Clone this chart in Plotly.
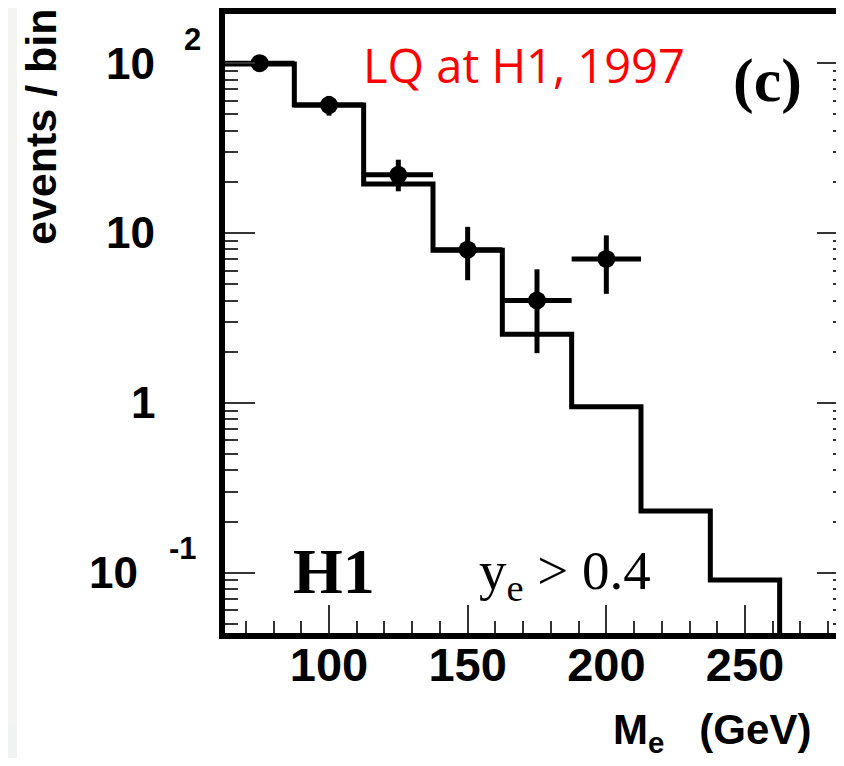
import math
import plotly.graph_objects as go

# ---------------- data ----------------
bin_edges = [62.5, 87.5, 112.5, 137.5, 162.5, 187.5, 212.5, 237.5, 262.5, 287.5]
mc_expectation = [99.0, 56.6, 19.4, 7.92, 2.53, 0.947, 0.231, 0.0906, 0.02]

data_mass = [75, 100, 125, 150, 175, 200]
data_events = [100.0, 56.6, 22.0, 7.97, 4.01, 7.03]
data_err_up = [10.0, 7.5, 5.0, 2.9, 2.1, 2.65]
data_err_down = [10.0, 7.5, 4.4, 2.7, 2.05, 2.65]
data_mass_halfwidth = [12.5, 12.5, 12.5, 12.5, 12.5, 12.5]

x_tick_vals = [100, 150, 200, 250]
x_tick_labels = ["100", "150", "200", "250"]
y_tick_vals = [100, 10, 1, 0.1]
y_tick_base = ["10", "10", "1", "10"]
y_tick_exp = ["2", "", "", "-1"]

# ---------------- geometry (page pixels; the page body has an 8px margin) ----
OFF = 8
PL, PR, PT, PB = 225, 844, 14, 633          # plot area in page pixels
W, H = 836, 750
ML, MR, MT, MB = PL - OFF, OFF + W - PR, PT - OFF, OFF + H - PB
PW, PH = PR - PL, PB - PT


def px(x):
    return (x - PL) / PW


def py(y):
    return (PB - y) / PH


fig = go.Figure()

# MC expectation histogram (step line)
fig.add_trace(go.Scatter(
    x=bin_edges,
    y=mc_expectation + [mc_expectation[-1]],
    mode="lines",
    line=dict(shape="hv", color="black", width=5),
    showlegend=False,
    hoverinfo="skip",
))

# data points
fig.add_trace(go.Scatter(
    x=data_mass,
    y=data_events,
    mode="markers",
    marker=dict(color="black", size=18),
    error_y=dict(type="data", array=data_err_up, arrayminus=data_err_down,
                 symmetric=False, thickness=5, width=0, color="black"),
    error_x=dict(type="data", array=data_mass_halfwidth, thickness=5, width=0,
                 color="black"),
    showlegend=False,
))

# invisible trace to carry the right-hand tick axis
fig.add_trace(go.Scatter(x=[data_mass[0]], y=[data_events[0]], yaxis="y2",
                         mode="markers", marker=dict(opacity=0),
                         showlegend=False, hoverinfo="skip"))

tick_col = "#333333"
yrange = [-1.3553, 2.2893]
fig.update_layout(
    width=W, height=H,
    margin=dict(l=ML, r=MR, t=MT, b=MB, pad=0),
    paper_bgcolor="white", plot_bgcolor="white",
    xaxis=dict(
        range=[62.5, 285.7], showline=True, linewidth=6, linecolor="black",
        mirror=True, ticks="inside", ticklen=28, tickwidth=2, tickcolor=tick_col,
        tickvals=x_tick_vals, ticktext=x_tick_labels, ticklabelstandoff=-14,
        tickfont=dict(family="Liberation Sans", size=47, color="black", weight="bold"),
        showgrid=False, zeroline=False,
        minor=dict(ticks="inside", dtick=10, tick0=0, ticklen=12, tickwidth=2,
                   tickcolor=tick_col, showgrid=False),
    ),
    yaxis=dict(
        type="log", range=yrange, showline=True, linewidth=6,
        linecolor="black", mirror=False, ticks="inside", ticklen=30, tickwidth=2,
        tickcolor=tick_col, dtick=1, showticklabels=False, showgrid=False,
        zeroline=False,
        minor=dict(ticks="inside", dtick="D1", ticklen=13, tickwidth=2,
                   tickcolor=tick_col, showgrid=False),
    ),
    yaxis2=dict(
        type="log", range=yrange, overlaying="y", side="right",
        showline=False, ticks="inside", ticklen=27, tickwidth=2,
        tickcolor=tick_col, dtick=1, showticklabels=False, showgrid=False,
        zeroline=False,
        minor=dict(ticks="inside", dtick="D1", ticklen=11, tickwidth=2,
                   tickcolor=tick_col, showgrid=False),
    ),
)

# faint strip at far left of the scanned page
fig.add_shape(type="rect", xref="paper", yref="paper", x0=px(8), x1=px(17),
              y0=py(723), y1=py(8), line=dict(width=0), fillcolor="#f4f4f3",
              layer="below")
fig.add_shape(type="rect", xref="paper", yref="paper", x0=px(8), x1=px(17),
              y0=py(766), y1=py(723), line=dict(width=0), fillcolor="#eff3f1",
              layer="below")

tick_font = dict(family="Liberation Sans", size=44, color="black", weight="bold")
exp_font = dict(family="Liberation Sans", size=31, color="black", weight="bold")
base_right = [157, 157, 157, 140]
exp_left = [182, None, None, 167]
for v, b, e, br, el in zip(y_tick_vals, y_tick_base, y_tick_exp, base_right, exp_left):
    fig.add_annotation(x=px(br), xref="paper", y=math.log10(v), yref="y",
                       text=b, showarrow=False, xanchor="right", yanchor="middle",
                       font=tick_font)
    if e:
        fig.add_annotation(x=px(el), xref="paper", y=math.log10(v), yref="y",
                           text=e, showarrow=False, xanchor="left", yanchor="middle",
                           yshift=24, font=exp_font)

# titles and labels
fig.add_annotation(x=px(41), y=py(127), xref="paper", yref="paper",
                   text="events / bin", textangle=-90, showarrow=False,
                   xanchor="center", yanchor="middle",
                   font=dict(family="Liberation Sans", size=43, color="black", weight="bold"))
fig.add_annotation(x=px(611), y=py(732), xref="paper", yref="paper",
                   text="M<sub>e</sub>&nbsp;&nbsp; (GeV)", showarrow=False,
                   xanchor="left", yanchor="middle",
                   font=dict(family="Liberation Sans", size=42, color="black", weight="bold"))
fig.add_annotation(x=px(524), y=py(65.5), xref="paper", yref="paper",
                   text="LQ at H1, 1997", showarrow=False,
                   xanchor="center", yanchor="middle",
                   font=dict(family="Open Sans", size=47, color="#ff0000"))
fig.add_annotation(x=px(767), y=py(81), xref="paper", yref="paper",
                   text="(c)", showarrow=False,
                   xanchor="center", yanchor="middle",
                   font=dict(family="Liberation Serif", size=62, color="black", weight="bold"))
fig.add_annotation(x=px(333.5), y=py(571.5), xref="paper", yref="paper",
                   text="H1", showarrow=False,
                   xanchor="center", yanchor="middle",
                   font=dict(family="Liberation Serif", size=64, color="black", weight="bold"))
fig.add_annotation(x=px(477), y=py(574), xref="paper", yref="paper",
                   text="y<sub>e</sub> > 0.4", showarrow=False,
                   xanchor="left", yanchor="middle",
                   font=dict(family="Liberation Serif", size=55, color="black"))

fig.write_html("out.html")
